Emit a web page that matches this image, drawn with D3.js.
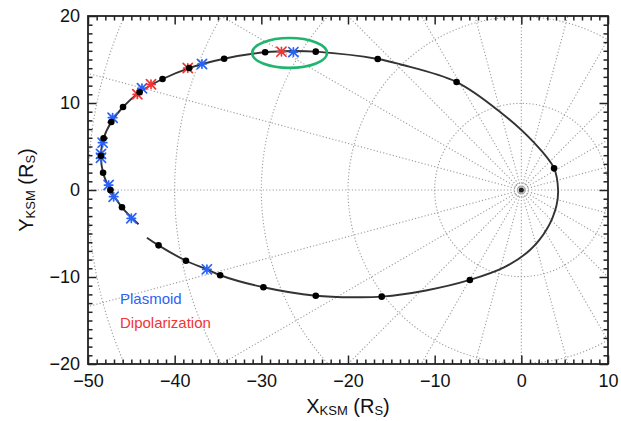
<!DOCTYPE html>
<html>
<head>
<meta charset="utf-8">
<script src="https://cdn.jsdelivr.net/npm/d3@7"></script>
<style>
  html, body { margin: 0; padding: 0; background: #fff; }
  svg { display: block; font-family: "Liberation Sans", Arial, Helvetica, sans-serif; }
</style>
</head>
<body>
<svg id="chart" width="621" height="421"></svg>
<script>
// Axis extents and tick labels (Saturn radii, KSM frame)
const xDomain = [-50, 10];
const yDomain = [-20, 20];
const xTicks = [-50, -40, -30, -20, -10, 0, 10];
const yTicks = [-20, -10, 0, 10, 20];

// Polar reference grid around Saturn
const ringRadii = [10, 20, 30, 40, 50, 60];
const innerRings = [0.4, 0.8];
const spokeAngles = d3.range(0, 360, 15);

// Spacecraft track, drawn as one line (a data gap at the lower left)
const trackX = [-43.20, -41.86, -38.70, -36.28, -34.75, -29.76, -23.72, -19.2, -16.11, -11.0, -5.94, -2.0, 1.0, 3.0, 4.05, 4.24, 3.78, 1.36, -2.48, -7.47, -14.0, -16.57, -23.72, -26.5, -29.56, -34.29, -38.32, -41.40, -44.05, -45.96, -47.31, -48.20, -48.50, -48.26, -47.42, -46.08, -44.17];
const trackY = [-5.48, -6.36, -8.13, -9.12, -9.80, -11.18, -12.15, -12.33, -12.26, -11.55, -10.34, -8.90, -6.90, -4.40, -1.80, 0.0, 2.49, 5.55, 9.00, 12.41, 14.45, 15.06, 15.90, 15.98, 15.83, 15.09, 14.02, 12.76, 11.23, 9.54, 7.82, 5.94, 3.94, 1.99, 0.00, -1.99, -3.94];

// Regular time marks along the track
const dotX = [-41.86, -38.70, -34.75, -29.76, -23.72, -16.11, -5.94, 3.78, -7.47, -16.57, -23.72, -29.56, -34.29, -38.32, -41.40, -44.05, -45.96, -47.31, -48.20, -48.50, -48.26, -47.42, -46.08];
const dotY = [-6.36, -8.13, -9.80, -11.18, -12.15, -12.26, -10.34, 2.49, 12.41, 15.06, 15.90, 15.83, 15.09, 14.02, 12.76, 11.23, 9.54, 7.82, 5.94, 3.94, 1.99, 0.00, -1.99];

// Plasmoid events
const plasmoidX = [-26.30, -36.85, -43.77, -47.16, -48.31, -48.50, -48.50, -47.62, -47.04, -45.00, -36.28];
const plasmoidY = [15.85, 14.48, 11.69, 8.31, 5.44, 4.15, 3.70, 0.57, -0.77, -3.25, -9.12];

// Dipolarization events
const dipolX = [-27.68, -38.49, -42.73, -44.31];
const dipolY = [15.90, 14.02, 12.15, 11.00];

// Highlighted interval
const highlightCenter = [-26.74, 15.75];
const highlightRadii = [4.32, 1.72];

const legendItems = ["Plasmoid", "Dipolarization"];
const plasmoidColor = "#2a62f6";
const dipolColor = "#f23434";

const svg = d3.select("#chart");
const plotLeft = 88, plotRight = 608, plotTop = 16, plotBottom = 364;
const x = d3.scaleLinear().domain(xDomain).range([plotLeft, plotRight]);
const y = d3.scaleLinear().domain(yDomain).range([plotBottom, plotTop]);
const unit = x(1) - x(0);

svg.append("defs").append("clipPath").attr("id", "plotClip")
  .append("rect").attr("x", plotLeft).attr("y", plotTop)
  .attr("width", plotRight - plotLeft).attr("height", plotBottom - plotTop);

// Grid
const grid = svg.append("g").attr("clip-path", "url(#plotClip)")
  .attr("fill", "none").attr("stroke", "#9d9d9d")
  .attr("stroke-width", 1.1).attr("stroke-dasharray", "1.2 2.1");

grid.selectAll("circle.ring").data(ringRadii.concat(innerRings)).join("circle")
  .attr("class", "ring")
  .attr("cx", x(0)).attr("cy", y(0))
  .attr("r", d => d * unit);

grid.selectAll("line.spoke").data(spokeAngles).join("line")
  .attr("class", "spoke")
  .attr("x1", x(0)).attr("y1", y(0))
  .attr("x2", d => x(70 * Math.cos(d * Math.PI / 180)))
  .attr("y2", d => y(70 * Math.sin(d * Math.PI / 180)));

// Saturn
svg.append("circle").attr("cx", x(0)).attr("cy", y(0)).attr("r", 2.6).attr("fill", "#222");

// Track
const track = trackX.map((d, i) => [d, trackY[i]]);
svg.append("path").datum(track)
  .attr("fill", "none").attr("stroke", "#333").attr("stroke-width", 1.9)
  .attr("d", d3.line().x(d => x(d[0])).y(d => y(d[1])).curve(d3.curveCatmullRom.alpha(0.5)));

// Event markers (asterisk)
function drawStars(xs, ys, color) {
  const g = svg.append("g").attr("stroke", color).attr("stroke-width", 1.7).attr("stroke-linecap", "round");
  const pts = xs.map((d, i) => [d, ys[i]]);
  const star = g.selectAll("g").data(pts).join("g")
    .attr("transform", d => `translate(${x(d[0])},${y(d[1])})`);
  const a = 4.6, b = 4.2;
  star.append("line").attr("x1", -a).attr("y1", -a).attr("x2", a).attr("y2", a);
  star.append("line").attr("x1", -a).attr("y1", a).attr("x2", a).attr("y2", -a);
  star.append("line").attr("x1", 0).attr("y1", -b).attr("x2", 0).attr("y2", b);
  star.append("line").attr("x1", -b).attr("y1", 0).attr("x2", b).attr("y2", 0);
  star.append("rect").attr("x", -2).attr("y", -2).attr("width", 4).attr("height", 4)
    .attr("fill", color).attr("stroke", "none");
}
drawStars(plasmoidX, plasmoidY, plasmoidColor);
drawStars(dipolX, dipolY, dipolColor);

// Time marks
svg.append("g").selectAll("circle").data(dotX.map((d, i) => [d, dotY[i]])).join("circle")
  .attr("cx", d => x(d[0])).attr("cy", d => y(d[1])).attr("r", 3.3).attr("fill", "#000");

// Highlight ellipse
svg.append("ellipse")
  .attr("cx", x(highlightCenter[0])).attr("cy", y(highlightCenter[1]))
  .attr("rx", highlightRadii[0] * unit).attr("ry", highlightRadii[1] * unit)
  .attr("fill", "none").attr("stroke", "#1fb56e").attr("stroke-width", 2.6);

// Axes with inward ticks on all four sides
const fmt = d => (d < 0 ? "\u2212" + Math.abs(d) : String(d));
const minorX = d3.range(xDomain[0], xDomain[1] + 1, 1).filter(d => d % 10 !== 0);
const minorY = d3.range(yDomain[0], yDomain[1] + 1, 1).filter(d => d % 10 !== 0);

function styleAxis(g, fontSize) {
  g.select(".domain").remove();
  g.selectAll(".tick line").attr("stroke", "#222").attr("stroke-width", 1.5);
  g.selectAll("text").attr("fill", "#111").style("font-size", fontSize + "px")
    .style("font-family", "'Liberation Sans', Arial, Helvetica, sans-serif");
}

function addAxis(make, scale, pos, major, minor, label, pad) {
  svg.append("g").attr("transform", pos)
    .call(make(scale).tickValues(minor).tickSizeInner(-4.5).tickSizeOuter(0).tickFormat(""))
    .call(g => styleAxis(g, 18));
  svg.append("g").attr("transform", pos)
    .call(make(scale).tickValues(major).tickSizeInner(-8.5).tickSizeOuter(0).tickPadding(pad)
      .tickFormat(label ? fmt : ""))
    .call(g => styleAxis(g, 18));
}
addAxis(d3.axisBottom, x, `translate(0,${plotBottom})`, xTicks, minorX, true, 10);
addAxis(d3.axisTop, x, `translate(0,${plotTop})`, xTicks, minorX, false, 0);
addAxis(d3.axisLeft, y, `translate(${plotLeft},0)`, yTicks, minorY, true, 8);
addAxis(d3.axisRight, y, `translate(${plotRight},0)`, yTicks, minorY, false, 0);

// Frame
svg.append("rect").attr("x", plotLeft).attr("y", plotTop)
  .attr("width", plotRight - plotLeft).attr("height", plotBottom - plotTop)
  .attr("fill", "none").attr("stroke", "#222").attr("stroke-width", 1.8);

// Axis titles
function title(sel, main, sub1, mid, sub2, end) {
  sel.append("tspan").text(main);
  sel.append("tspan").attr("font-size", 13).attr("dy", 2).text(sub1);
  sel.append("tspan").attr("dy", -2).text(mid);
  sel.append("tspan").attr("font-size", 13).attr("dy", 2).text(sub2);
  sel.append("tspan").attr("dy", -2).text(end);
}
const xt = svg.append("text").attr("x", (plotLeft + plotRight) / 2).attr("y", 413)
  .attr("text-anchor", "middle").attr("font-size", 20).attr("fill", "#111");
title(xt, "X", "KSM", " (R", "S", ")");
const yt = svg.append("text").attr("transform", `translate(33,${(plotTop + plotBottom) / 2}) rotate(-90)`)
  .attr("text-anchor", "middle").attr("font-size", 20).attr("fill", "#111");
title(yt, "Y", "KSM", " (R", "S", ")");

// Legend
svg.append("g").selectAll("text").data(legendItems).join("text")
  .attr("x", 120).attr("y", (d, i) => 304 + i * 24)
  .attr("font-size", 15)
  .attr("fill", (d, i) => i === 0 ? plasmoidColor : dipolColor)
  .text(d => d);
</script>
</body>
</html>
